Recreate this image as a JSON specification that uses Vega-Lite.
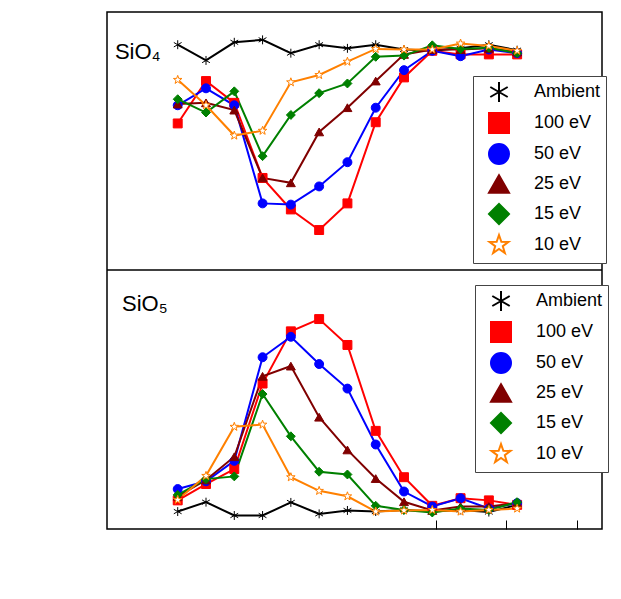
{
  "$schema": "https://vega.github.io/schema/vega-lite/v6.json",
  "autosize": {"type": "none"},
  "padding": {"left": 107, "top": 12, "right": 19, "bottom": 70},
  "width": 495,
  "height": 517,
  "background": "white",
  "config": {
    "font": "Liberation Sans",
    "view": {"stroke": "black", "strokeWidth": 1.5},
    "axis": {
      "domain": false, "grid": false, "tickColor": "black", "tickWidth": 1,
      "labelColor": "black", "titleColor": "black",
      "labelFont": "Liberation Sans", "titleFont": "Liberation Sans",
      "labelFontSize": 18, "titleFontSize": 24, "titleFontWeight": "normal",
      "labelFlush": false, "labelOverlap": false, "labelBound": false
    },
    "legend": {
      "title": null, "orient": "none", "fillColor": "white", "strokeColor": "#444", "padding": 5,
      "labelFont": "Liberation Sans", "labelFontSize": 18, "labelColor": "black", "labelLimit": 200,
      "symbolType": "stroke", "symbolSize": 400, "symbolStrokeWidth": 2, "rowPadding": 3,
      "symbolOffset": 10, "labelOffset": 24
    }
  },
  "datasets": {
    "sio4": [
      {"shell": 0, "Ambient": 99.91, "100 eV": 99.26, "50 eV": 99.41, "25 eV": 99.42, "15 eV": 99.46, "10 eV": 99.62},
      {"shell": 1, "Ambient": 99.78, "100 eV": 99.61, "50 eV": 99.55, "25 eV": 99.43, "15 eV": 99.35, "10 eV": 99.41},
      {"shell": 2, "Ambient": 99.93, "100 eV": 99.43, "50 eV": 99.41, "25 eV": 99.37, "15 eV": 99.525, "10 eV": 99.16},
      {"shell": 3, "Ambient": 99.95, "100 eV": 98.81, "50 eV": 98.60, "25 eV": 98.81, "15 eV": 98.99, "10 eV": 99.20},
      {"shell": 4, "Ambient": 99.84, "100 eV": 98.55, "50 eV": 98.59, "25 eV": 98.77, "15 eV": 99.33, "10 eV": 99.60},
      {"shell": 5, "Ambient": 99.91, "100 eV": 98.38, "50 eV": 98.74, "25 eV": 99.19, "15 eV": 99.51, "10 eV": 99.66},
      {"shell": 6, "Ambient": 99.88, "100 eV": 98.60, "50 eV": 98.94, "25 eV": 99.39, "15 eV": 99.59, "10 eV": 99.77},
      {"shell": 7, "Ambient": 99.91, "100 eV": 99.27, "50 eV": 99.39, "25 eV": 99.61, "15 eV": 99.81, "10 eV": 99.875},
      {"shell": 8, "Ambient": 99.87, "100 eV": 99.64, "50 eV": 99.70, "25 eV": 99.83, "15 eV": 99.82, "10 eV": 99.87},
      {"shell": 9, "Ambient": 99.86, "100 eV": 99.86, "50 eV": 99.86, "25 eV": 99.87, "15 eV": 99.905, "10 eV": 99.87},
      {"shell": 10, "Ambient": 99.88, "100 eV": 99.83, "50 eV": 99.815, "25 eV": 99.87, "15 eV": 99.875, "10 eV": 99.92},
      {"shell": 11, "Ambient": 99.91, "100 eV": 99.83, "50 eV": 99.87, "25 eV": 99.88, "15 eV": 99.885, "10 eV": 99.90},
      {"shell": 12, "Ambient": 99.865, "100 eV": 99.83, "50 eV": 99.84, "25 eV": 99.85, "15 eV": 99.84, "10 eV": 99.86}
    ],
    "sio5": [
      {"shell": 0, "Ambient": 0.078, "100 eV": 0.16, "50 eV": 0.243, "25 eV": 0.19, "15 eV": 0.20, "10 eV": 0.164},
      {"shell": 1, "Ambient": 0.147, "100 eV": 0.28, "50 eV": 0.30, "25 eV": 0.31, "15 eV": 0.316, "10 eV": 0.34},
      {"shell": 2, "Ambient": 0.049, "100 eV": 0.39, "50 eV": 0.45, "25 eV": 0.48, "15 eV": 0.336, "10 eV": 0.70},
      {"shell": 3, "Ambient": 0.049, "100 eV": 1.017, "50 eV": 1.21, "25 eV": 1.07, "15 eV": 0.94, "10 eV": 0.716},
      {"shell": 4, "Ambient": 0.145, "100 eV": 1.40, "50 eV": 1.36, "25 eV": 1.145, "15 eV": 0.63, "10 eV": 0.33},
      {"shell": 5, "Ambient": 0.061, "100 eV": 1.49, "50 eV": 1.16, "25 eV": 0.77, "15 eV": 0.37, "10 eV": 0.23},
      {"shell": 6, "Ambient": 0.086, "100 eV": 1.30, "50 eV": 0.98, "25 eV": 0.53, "15 eV": 0.35, "10 eV": 0.19},
      {"shell": 7, "Ambient": 0.078, "100 eV": 0.67, "50 eV": 0.57, "25 eV": 0.32, "15 eV": 0.12, "10 eV": 0.078},
      {"shell": 8, "Ambient": 0.09, "100 eV": 0.33, "50 eV": 0.225, "25 eV": 0.15, "15 eV": 0.09, "10 eV": 0.086},
      {"shell": 9, "Ambient": 0.078, "100 eV": 0.12, "50 eV": 0.115, "25 eV": 0.086, "15 eV": 0.071, "10 eV": 0.09},
      {"shell": 10, "Ambient": 0.09, "100 eV": 0.176, "50 eV": 0.176, "25 eV": 0.115, "15 eV": 0.10, "10 eV": 0.078},
      {"shell": 11, "Ambient": 0.074, "100 eV": 0.16, "50 eV": 0.10, "25 eV": 0.115, "15 eV": 0.09, "10 eV": 0.09},
      {"shell": 12, "Ambient": 0.127, "100 eV": 0.127, "50 eV": 0.14, "25 eV": 0.14, "15 eV": 0.147, "10 eV": 0.10}
    ]
  },
  "layer": [
    {
      "data": {"name": "sio4"},
      "transform": [{"fold": ["Ambient", "100 eV", "50 eV", "25 eV", "15 eV", "10 eV"], "as": ["series", "value"]}],
      "layer": [
        {
          "mark": {"type": "line", "strokeWidth": 2},
          "encoding": {
            "x": {"field": "shell", "type": "quantitative", "scale": {"domain": [-2.5, 15], "nice": false, "zero": false},
                  "axis": {"orient": "top", "title": null, "labels": false, "tickSize": -9, "values": [0, 2.5, 5, 7.5, 10, 12.5]}},
            "y": {"field": "value", "type": "quantitative", "scale": {"domain": [95.912, 100.18], "nice": false, "zero": false},
                  "axis": {"orient": "left", "title": "Fraction (%)", "titlePadding": 6, "tickSize": 9, "labelPadding": 6,
                           "values": [98.25, 98.5, 98.75, 99, 99.25, 99.5, 99.75, 100],
                           "labelExpr": "(datum.value * 2) % 1 == 0 ? format(datum.value, '.1f') : ''"}},
            "stroke": {"field": "series", "type": "nominal",
              "scale": {"domain": ["Ambient", "100 eV", "50 eV", "25 eV", "15 eV", "10 eV"], "range": ["black", "#ff0000", "#0000ff", "#800000", "#008000", "#ff8000"]},
              "legend": {"legendX": 366, "legendY": 64,
                "encode": {"symbols": {"update": {
                  "shape": {"signal": "datum.value==='Ambient' ? 'M-2,0H-0.45M0.45,0H2M0,-0.45V0.45M-0.39,-0.22L0.39,0.22M-0.39,0.22L0.39,-0.22' : datum.value==='100 eV' ? 'M-2,0H2M-0.4,-0.4H0.4V0.4H-0.4Z' : datum.value==='50 eV' ? 'M-2,0H2M-0.45,0A0.45,0.45,0,1,1,0.45,0A0.45,0.45,0,1,1,-0.45,0Z' : datum.value==='25 eV' ? 'M-2,0H2M0,-0.48L0.46,0.34H-0.46Z' : datum.value==='15 eV' ? 'M-2,0H2M0,-0.5L0.5,0L0,0.5L-0.5,0Z' : 'M-2,0H-0.3M0.3,0H2M0,-0.5L0.118,-0.162L0.476,-0.155L0.19,0.062L0.294,0.405L0,0.2L-0.294,0.405L-0.19,0.062L-0.476,-0.155L-0.118,-0.162Z'"},
                  "fill": {"signal": "datum.value==='Ambient' ? 'transparent' : datum.value==='10 eV' ? 'white' : datum.value==='100 eV' ? '#ff0000' : datum.value==='50 eV' ? '#0000ff' : datum.value==='25 eV' ? '#800000' : '#008000'"},
                  "stroke": {"signal": "datum.value==='Ambient' ? 'black' : datum.value==='100 eV' ? '#ff0000' : datum.value==='50 eV' ? '#0000ff' : datum.value==='25 eV' ? '#800000' : datum.value==='15 eV' ? '#008000' : '#ff8000'"}
                }}}}}
          }
        },
        {
          "mark": {"type": "point", "filled": true, "size": 80, "strokeWidth": 1, "opacity": 1},
          "encoding": {
            "x": {"field": "shell", "type": "quantitative", "axis": null},
            "y": {"field": "value", "type": "quantitative", "axis": null},
            "stroke": {"field": "series", "type": "nominal"},
            "fill": {"field": "series", "type": "nominal", "legend": null,
              "scale": {"domain": ["Ambient", "100 eV", "50 eV", "25 eV", "15 eV", "10 eV"], "range": ["transparent", "#ff0000", "#0000ff", "#800000", "#008000", "white"]}},
            "shape": {"field": "series", "type": "nominal", "legend": null,
              "scale": {"domain": ["Ambient", "100 eV", "50 eV", "25 eV", "15 eV", "10 eV"], "range": ["M0,-1V1M-0.87,-0.5L0.87,0.5M-0.87,0.5L0.87,-0.5", "square", "circle", "triangle-up", "diamond", "M0,-1L0.235,-0.324L0.951,-0.309L0.38,0.124L0.588,0.809L0,0.4L-0.588,0.809L-0.38,0.124L-0.951,-0.309L-0.235,-0.324Z"]}}
          }
        },
        {
          "data": {"values": [{}]},
          "mark": {"type": "rule", "color": "black", "strokeWidth": 1.5},
          "encoding": {
            "y": {"datum": 98.05, "type": "quantitative", "axis": null}
          }
        }
      ]
    },
    {
      "data": {"values": [{}]},
      "mark": {"type": "text", "fontSize": 22, "align": "left", "baseline": "middle", "color": "black", "font": "Liberation Sans"},
      "encoding": {
        "x": {"datum": -2.22, "type": "quantitative",
              "axis": {"orient": "bottom", "position": 258, "title": null, "labels": false, "tickSize": -9, "values": [0, 2.5, 5, 7.5, 10, 12.5]}},
        "y": {"datum": 99.85, "type": "quantitative", "scale": {"domain": [95.912, 100.18], "nice": false, "zero": false}, "axis": null},
        "text": {"value": "SiO₄"}
      }
    },
    {
      "data": {"name": "sio5"},
      "transform": [{"fold": ["Ambient", "100 eV", "50 eV", "25 eV", "15 eV", "10 eV"], "as": ["series", "value"]}],
      "layer": [
        {
          "mark": {"type": "line", "strokeWidth": 2},
          "encoding": {
            "x": {"field": "shell", "type": "quantitative",
                  "axis": {"orient": "bottom", "title": "Shell", "titlePadding": 14, "tickSize": -9, "labelPadding": 12,
                           "values": [0, 2.5, 5, 7.5, 10, 12.5, 15],
                           "labelExpr": "datum.value % 5 == 0 ? format(datum.value, 'd') : ''"}},
            "y": {"field": "value", "type": "quantitative", "scale": {"domain": [-0.05, 3.7426], "nice": false, "zero": false},
                  "axis": {"orient": "left", "title": null, "tickSize": 9, "labelPadding": 6,
                           "values": [0, 0.25, 0.5, 0.75, 1, 1.25, 1.5, 1.75],
                           "labelExpr": "(datum.value * 2) % 1 == 0 ? format(datum.value, '.1f') : ''"}},
            "stroke": {"field": "series", "type": "nominal",
              "scale": {"domain": ["Ambient", "100 eV", "50 eV", "25 eV", "15 eV", "10 eV"], "range": ["black", "#ff0000", "#0000ff", "#800000", "#008000", "#ff8000"]},
              "legend": {"legendX": 368, "legendY": 273,
                "encode": {"symbols": {"update": {
                  "shape": {"signal": "datum.value==='Ambient' ? 'M-2,0H-0.45M0.45,0H2M0,-0.45V0.45M-0.39,-0.22L0.39,0.22M-0.39,0.22L0.39,-0.22' : datum.value==='100 eV' ? 'M-2,0H2M-0.4,-0.4H0.4V0.4H-0.4Z' : datum.value==='50 eV' ? 'M-2,0H2M-0.45,0A0.45,0.45,0,1,1,0.45,0A0.45,0.45,0,1,1,-0.45,0Z' : datum.value==='25 eV' ? 'M-2,0H2M0,-0.48L0.46,0.34H-0.46Z' : datum.value==='15 eV' ? 'M-2,0H2M0,-0.5L0.5,0L0,0.5L-0.5,0Z' : 'M-2,0H-0.3M0.3,0H2M0,-0.5L0.118,-0.162L0.476,-0.155L0.19,0.062L0.294,0.405L0,0.2L-0.294,0.405L-0.19,0.062L-0.476,-0.155L-0.118,-0.162Z'"},
                  "fill": {"signal": "datum.value==='Ambient' ? 'transparent' : datum.value==='10 eV' ? 'white' : datum.value==='100 eV' ? '#ff0000' : datum.value==='50 eV' ? '#0000ff' : datum.value==='25 eV' ? '#800000' : '#008000'"},
                  "stroke": {"signal": "datum.value==='Ambient' ? 'black' : datum.value==='100 eV' ? '#ff0000' : datum.value==='50 eV' ? '#0000ff' : datum.value==='25 eV' ? '#800000' : datum.value==='15 eV' ? '#008000' : '#ff8000'"}
                }}}}}
          }
        },
        {
          "mark": {"type": "point", "filled": true, "size": 80, "strokeWidth": 1, "opacity": 1},
          "encoding": {
            "x": {"field": "shell", "type": "quantitative", "axis": null},
            "y": {"field": "value", "type": "quantitative", "axis": null},
            "stroke": {"field": "series", "type": "nominal"},
            "fill": {"field": "series", "type": "nominal", "legend": null,
              "scale": {"domain": ["Ambient", "100 eV", "50 eV", "25 eV", "15 eV", "10 eV"], "range": ["transparent", "#ff0000", "#0000ff", "#800000", "#008000", "white"]}},
            "shape": {"field": "series", "type": "nominal", "legend": null,
              "scale": {"domain": ["Ambient", "100 eV", "50 eV", "25 eV", "15 eV", "10 eV"], "range": ["M0,-1V1M-0.87,-0.5L0.87,0.5M-0.87,0.5L0.87,-0.5", "square", "circle", "triangle-up", "diamond", "M0,-1L0.235,-0.324L0.951,-0.309L0.38,0.124L0.588,0.809L0,0.4L-0.588,0.809L-0.38,0.124L-0.951,-0.309L-0.235,-0.324Z"]}}
          }
        },
        {
          "data": {"values": [{}]},
          "mark": {"type": "text", "fontSize": 22, "align": "left", "baseline": "middle", "color": "black", "font": "Liberation Sans"},
          "encoding": {
            "x": {"datum": -1.97, "type": "quantitative", "axis": null},
            "y": {"datum": 1.6, "type": "quantitative", "axis": null},
            "text": {"value": "SiO₅"}
          }
        }
      ]
    }
  ],
  "resolve": {
    "scale": {"y": "independent", "stroke": "independent", "fill": "independent", "shape": "independent"},
    "axis": {"x": "independent", "y": "independent"},
    "legend": {"stroke": "independent"}
  }
}
